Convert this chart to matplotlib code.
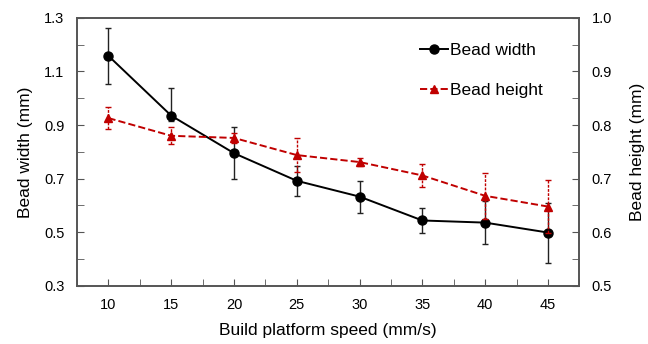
import numpy as np
import matplotlib
matplotlib.use("Agg")
import matplotlib.pyplot as plt
from matplotlib.ticker import MultipleLocator

plt.rcParams['font.family'] = ['Liberation Sans', 'DejaVu Sans']

speed = [10, 15, 20, 25, 30, 35, 40, 45]

# bead width (left axis), mm
width = [1.158, 0.935, 0.795, 0.692, 0.633, 0.544, 0.536, 0.499]
width_err_lo = [0.105, 0.02, 0.096, 0.055, 0.06, 0.047, 0.08, 0.112]
width_err_hi = [0.105, 0.105, 0.096, 0.055, 0.06, 0.047, 0.08, 0.112]

# bead height (right axis), mm
height = [0.813, 0.780, 0.776, 0.744, 0.731, 0.706, 0.668, 0.648]
height_err = [0.02, 0.016, 0.01, 0.032, 0.008, 0.021, 0.043, 0.05]

left_ticks = [0.3, 0.5, 0.7, 0.9, 1.1, 1.3]
right_ticks = [0.5, 0.6, 0.7, 0.8, 0.9, 1.0]

red = '#C00000'

fig, ax = plt.subplots(figsize=(6.48, 3.44), dpi=100)
fig.subplots_adjust(left=0.119, right=0.894, top=0.948, bottom=0.169)
ax2 = ax.twinx()

lw, = ax.plot(speed, width, color='black', marker='o', markersize=6.5, lw=1.4,
              label='Bead width', zorder=3)
ax.errorbar(speed, width, yerr=[width_err_lo, width_err_hi], fmt='none',
            ecolor='#222222', elinewidth=1.0, capsize=2, capthick=1.0, zorder=2)

lh, = ax2.plot(speed, height, color=red, marker='^', markersize=5.5, lw=1.4,
               ls='--', label='Bead height', zorder=3)
eb = ax2.errorbar(speed, height, yerr=height_err, fmt='none', ecolor=red,
                  elinewidth=1.0, capsize=2, capthick=1.0, zorder=2)
eb[2][0].set_linestyle((0, (2, 1)))

ax.set_xlim(7.5, 47.5)
ax.set_ylim(0.3, 1.3)
ax2.set_ylim(0.5, 1.0)

ax.set_xticks(speed)
ax.xaxis.set_minor_locator(MultipleLocator(2.5))
ax.set_yticks(left_ticks)
ax.yaxis.set_minor_locator(MultipleLocator(0.1))
ax2.set_yticks(right_ticks)
ax2.yaxis.set_minor_locator(MultipleLocator(0.05))
ax.yaxis.set_major_formatter(lambda v, p: f'{v:.1f}')
ax2.yaxis.set_major_formatter(lambda v, p: f'{v:.1f}')

for a in (ax, ax2):
    a.tick_params(which='both', direction='in', labelsize=10.5, color='#555555',
                  length=5)
    a.tick_params(which='major', pad=9)
    for s in a.spines.values():
        s.set_color('#555555')
        s.set_linewidth(1.2)

ax.set_xlabel('Build platform speed (mm/s)', fontsize=12.5, labelpad=8)
ax.set_ylabel('Bead width (mm)', fontsize=12.5, labelpad=8)
ax2.set_ylabel('Bead height (mm)', fontsize=12.5, labelpad=13)

ax.legend([lw, lh], ['Bead width', 'Bead height'], loc='upper right',
          bbox_to_anchor=(0.958, 0.965), frameon=False, fontsize=12.5,
          handlelength=1.6, handletextpad=0.1, labelspacing=1.45)

fig.savefig('out.png', dpi=100)
